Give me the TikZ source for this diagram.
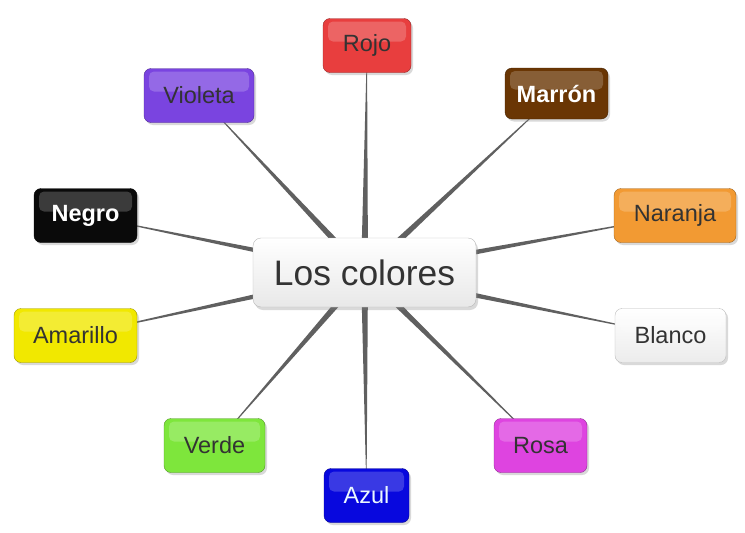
\documentclass[tikz,border=0pt]{standalone}
\usepackage{fontspec}
\setmainfont{Liberation Sans}
\usetikzlibrary{calc,shadows,backgrounds}

\definecolor{rojoc}{HTML}{E83E3E}
\definecolor{violetac}{HTML}{7A44E0}
\definecolor{marronc}{HTML}{6A3604}
\definecolor{negroc}{HTML}{0A0A0A}
\definecolor{naranjac}{HTML}{F29A33}
\definecolor{amarilloc}{HTML}{F1E800}
\definecolor{verdec}{HTML}{7EE63C}
\definecolor{rosac}{HTML}{DE44E0}
\definecolor{azulc}{HTML}{0808DE}
\definecolor{txtgray}{HTML}{333333}
\definecolor{wiregray}{HTML}{606060}

\begin{document}
\begin{tikzpicture}[
    x=1pt, y=-1pt,
    leaf/.style={draw=#1!65!black, fill=#1, rounded corners=7pt, minimum height=54pt, inner sep=0pt,
        font=\fontsize{23.5}{28}\selectfont, text=txtgray,
        drop shadow={opacity=0.3, shadow xshift=2pt, shadow yshift=-2.5pt},
        path picture={\fill[white, opacity=0.2, rounded corners=5pt]
            ([xshift=5pt,yshift=-3pt]path picture bounding box.north west) rectangle
            ([xshift=-5pt,yshift=4pt]path picture bounding box.east);}},
    hub/.style={draw=gray!55, top color=white, bottom color=gray!18, rounded corners=8pt,
        minimum width=223pt, minimum height=69pt, inner sep=0pt,
        font=\fontsize{35.4}{42}\selectfont, text=txtgray,
        drop shadow={opacity=0.3, shadow xshift=2pt, shadow yshift=-3pt}},
    spoke/.style={fill=wiregray, to path={
        ($(\tikztostart)!3.5pt!90:(\tikztotarget)$) -- ($(\tikztostart)!3.5pt!-90:(\tikztotarget)$)
        -- (\tikztotarget.center) -- cycle}}
]
\useasboundingbox (0,0) rectangle (745,533);
\node[hub] (c) at (364.5,272.5) {Los colores};
\node[leaf=rojoc, minimum width=88pt] (rojo) at (367,45.5) {Rojo};
\node[leaf=violetac, minimum width=110pt] (violeta) at (199,95.5) {Violeta};
\node[leaf=marronc, minimum width=103pt, minimum height=51pt, text=white, font=\fontsize{23.5}{28}\selectfont\bfseries] (marron) at (556.5,93.5) {Marrón};
\node[leaf=negroc, minimum width=103pt, text=white, font=\fontsize{23.5}{28}\selectfont\bfseries] (negro) at (85.5,215.5) {Negro};
\node[leaf=naranjac, minimum width=122pt] (naranja) at (675,215.5) {Naranja};
\node[leaf=amarilloc, minimum width=123pt] (amarillo) at (75.5,335.5) {Amarillo};
\node[leaf=white, draw=gray!55, top color=white, bottom color=gray!15, minimum width=111pt] (blanco) at (670.5,335.5) {Blanco};
\node[leaf=verdec, minimum width=101pt] (verde) at (214.5,445.5) {Verde};
\node[leaf=rosac, minimum width=93pt] (rosa) at (540.5,445.5) {Rosa};
\node[leaf=azulc, minimum width=85pt, text=cyan!8] (azul) at (366.5,495.5) {Azul};
% spokes behind the boxes
\begin{pgfonlayer}{background}
\path[spoke] (c) to (rojo);
\path[spoke] (c) to (violeta);
\path[spoke] (c) to (marron);
\path[spoke] (c) to (negro);
\path[spoke] (c) to (naranja);
\path[spoke] (c) to (amarillo);
\path[spoke] (c) to (blanco);
\path[spoke] (c) to (verde);
\path[spoke] (c) to (rosa);
\path[spoke] (c) to (azul);
\end{pgfonlayer}
\end{tikzpicture}
\end{document}
